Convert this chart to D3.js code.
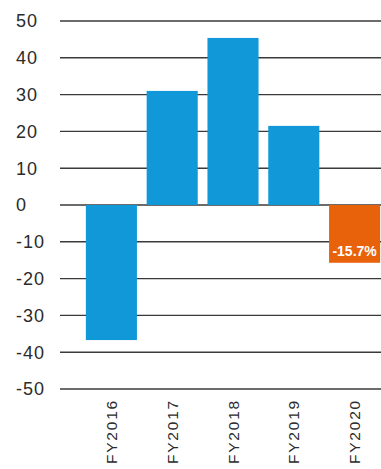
<!DOCTYPE html>
<html>
<head>
<meta charset="utf-8">
<script src="https://cdn.jsdelivr.net/npm/d3@7"></script>
<style>
  html, body { margin: 0; padding: 0; background: #fff; }
  svg { display: block; }
</style>
</head>
<body>
<svg id="chart" width="381" height="469"></svg>
<script>
// Annual change, percent
const years = ["FY2016", "FY2017", "FY2018", "FY2019", "FY2020"];
const values = [-36.7, 31.0, 45.4, 21.5, -15.7];
const yTicks = [50, 40, 30, 20, 10, 0, -10, -20, -30, -40, -50];
const highlightYear = "FY2020";

const svg = d3.select("#chart");

const y = d3.scaleLinear().domain([-50, 50]).range([389, 21]);
const x = d3.scaleBand().domain(years).range([81, 385]).paddingInner(0.16).paddingOuter(0.08);

// Horizontal gridlines with tick labels on the left
const grid = svg.append("g");
grid.selectAll("line")
  .data(yTicks)
  .join("line")
  .attr("x1", 60).attr("x2", 381)
  .attr("y1", d => y(d)).attr("y2", d => y(d))
  .attr("stroke", "#3a3a3a")
  .attr("stroke-width", 1.4);

grid.selectAll("text")
  .data(yTicks)
  .join("text")
  .attr("x", 16)
  .attr("y", d => y(d))
  .attr("dy", "0.36em")
  .attr("font-family", "Liberation Sans, Arial, sans-serif")
  .attr("font-size", 18)
  .attr("letter-spacing", 1)
  .attr("fill", "#2b2b2b")
  .text(d => d);

// Bars
svg.append("g").selectAll("rect")
  .data(years.map((k, i) => ({ year: k, v: values[i] })))
  .join("rect")
  .attr("x", d => x(d.year))
  .attr("width", x.bandwidth())
  .attr("y", d => y(Math.max(0, d.v)))
  .attr("height", d => Math.abs(y(d.v) - y(0)))
  .attr("fill", d => d.year === highlightYear ? "#E8620C" : "#1198D8");

// Value label on the highlighted bar
const hiIdx = years.indexOf(highlightYear);
svg.append("text")
  .attr("x", x(highlightYear) + x.bandwidth() / 2)
  .attr("y", y(values[hiIdx]) - 7)
  .attr("text-anchor", "middle")
  .attr("font-family", "Liberation Sans Narrow, Arial Narrow, sans-serif")
  .attr("font-size", 14)
  .attr("font-weight", "bold")
  .attr("fill", "#fff")
  .text(values[hiIdx].toFixed(1) + "%");

// Rotated category labels
svg.append("g").selectAll("text")
  .data(years)
  .join("text")
  .attr("transform", d => `translate(${x(d) + x.bandwidth() / 2 + 5.5},399) rotate(-90)`)
  .attr("text-anchor", "end")
  .attr("font-family", "Liberation Sans, Arial, sans-serif")
  .attr("font-size", 15.5)
  .attr("letter-spacing", 1.8)
  .attr("fill", "#2b2b2b")
  .text(d => d);
</script>
</body>
</html>
